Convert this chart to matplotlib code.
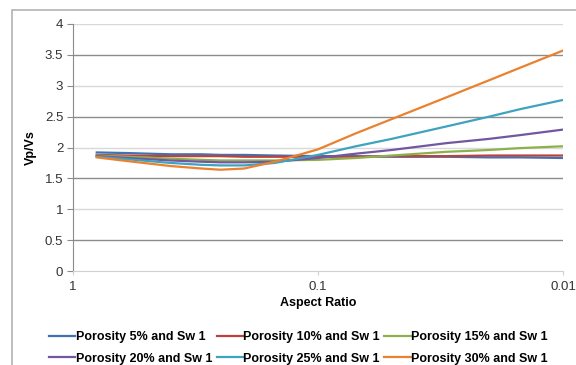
import matplotlib.pyplot as plt
import numpy as np
from matplotlib.patches import Rectangle

plt.rcParams['font.family'] = ['Liberation Sans', 'DejaVu Sans']

# aspect ratio values (log axis, reversed)
aspect = [0.8, 0.6, 0.4, 0.3, 0.25, 0.2, 0.15, 0.1, 0.07, 0.05, 0.03, 0.02, 0.015, 0.01]

por05 = [1.92, 1.91, 1.89, 1.89, 1.88, 1.88, 1.87, 1.86, 1.86, 1.85, 1.85, 1.84, 1.84, 1.83]
por10 = [1.88, 1.87, 1.86, 1.86, 1.86, 1.85, 1.85, 1.85, 1.85, 1.86, 1.86, 1.87, 1.87, 1.87]
por15 = [1.87, 1.85, 1.82, 1.80, 1.79, 1.79, 1.79, 1.80, 1.83, 1.87, 1.93, 1.96, 1.99, 2.02]
por20 = [1.86, 1.83, 1.79, 1.77, 1.76, 1.76, 1.77, 1.83, 1.90, 1.96, 2.07, 2.14, 2.20, 2.29]
por25 = [1.85, 1.81, 1.75, 1.72, 1.71, 1.71, 1.75, 1.88, 2.02, 2.14, 2.34, 2.50, 2.62, 2.77]
por30 = [1.84, 1.78, 1.70, 1.66, 1.64, 1.66, 1.77, 1.97, 2.23, 2.46, 2.81, 3.09, 3.29, 3.57]

names = ['Porosity 5% and Sw 1', 'Porosity 10% and Sw 1', 'Porosity 15% and Sw 1',
         'Porosity 20% and Sw 1', 'Porosity 25% and Sw 1', 'Porosity 30% and Sw 1']
colors = ['#3F72B5', '#BC423F', '#8DB04C', '#7257A0', '#3FA3BF', '#E9812F']
series = [por05, por10, por15, por20, por25, por30]

fig = plt.figure(figsize=(5.76, 3.65), dpi=100)
ax = fig.add_axes([73/576, 1-271/365, (563-73)/576, (271-24)/365])

# chart border (runs off the right and bottom edge)
fig.add_artist(Rectangle((12/576, -0.2), 2, 1 - 10/365 + 0.2, transform=fig.transFigure,
                         fill=False, edgecolor='#b3b3b3', linewidth=1.2))

handles = []
for name, vals, col in zip(names, series, colors):
    h, = ax.plot(aspect, vals, color=col, linewidth=1.6, label=name)
    handles.append(h)

ax.set_xscale('log')
ax.set_xlim(1, 0.01)
ax.set_ylim(0, 4)
ax.set_xticks([1, 0.1, 0.01])
ax.set_xticklabels(['1', '0.1', '0.01'])
ax.xaxis.set_minor_locator(plt.NullLocator())
yt = np.arange(0, 4.01, 0.5)
ax.set_yticks(yt)
ax.set_yticklabels(['0', '0.5', '1', '1.5', '2', '2.5', '3', '3.5', '4'])

# gridlines: Excel renders them alternately dark / light
for v in yt[1:]:
    c = '#d9d9d9' if v == int(v) else '#8c8c8c'
    ax.axhline(v, color=c, linewidth=1.0, zorder=0)

for s in ['top', 'right']:
    ax.spines[s].set_visible(False)
ax.spines['left'].set_color('#8c8c8c')
ax.spines['bottom'].set_color('#d0d0d0')
ax.tick_params(axis='y', length=4, color='#8c8c8c', labelsize=9.5, pad=3, labelcolor='#333333')
ax.tick_params(axis='x', length=3, color='#d0d0d0', labelsize=9.5, pad=4, labelcolor='#333333')

ax.set_xlabel('Aspect Ratio', fontsize=9, fontweight='bold', labelpad=3)
ax.set_ylabel('Vp/Vs', fontsize=9, fontweight='bold', labelpad=6)

# row-major legend order like the reference
order = [0, 3, 1, 4, 2, 5]
fig.legend(handles=[handles[i] for i in order], loc='lower center',
           bbox_to_anchor=(0.518, -0.03), ncol=3,
           frameon=False, prop={'size': 9, 'weight': 'bold'},
           handlelength=2.1, handletextpad=0.05, columnspacing=0.35, labelspacing=0.75)

fig.savefig('out.png', dpi=100)
